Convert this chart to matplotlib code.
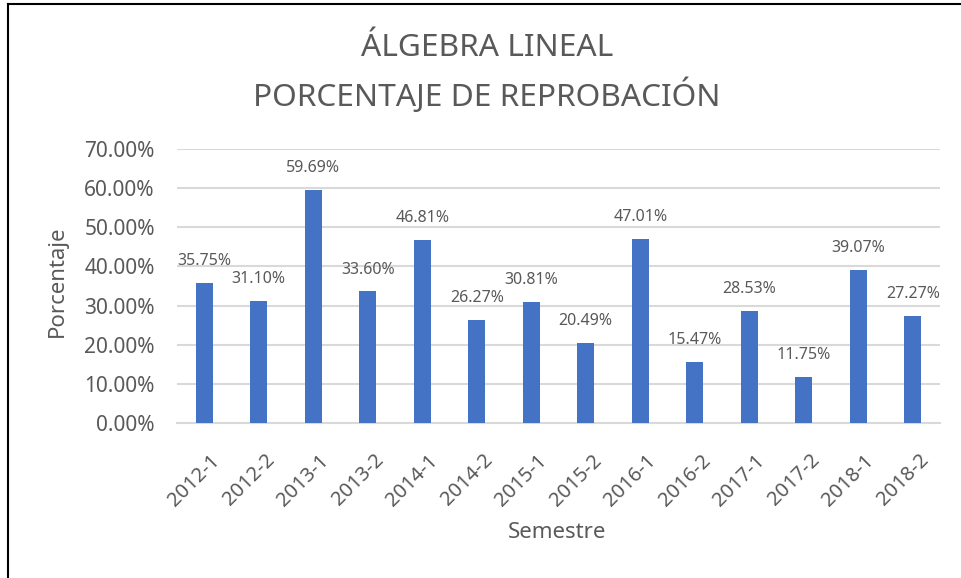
import matplotlib
matplotlib.use("Agg")
import matplotlib.pyplot as plt
from matplotlib.lines import Line2D
from matplotlib.ticker import FuncFormatter
from matplotlib.transforms import ScaledTranslation

semestres = ["2012-1", "2012-2", "2013-1", "2013-2", "2014-1", "2014-2", "2015-1",
             "2015-2", "2016-1", "2016-2", "2017-1", "2017-2", "2018-1", "2018-2"]
porcentajes = [35.75, 31.10, 59.69, 33.60, 46.81, 26.27, 30.81,
               20.49, 47.01, 15.47, 28.53, 11.75, 39.07, 27.27]
yticks = [0, 10, 20, 30, 40, 50, 60, 70]

plt.rcParams['font.family'] = ['Noto Sans', 'DejaVu Sans']
TXT = '#595959'
W, H = 961, 578
fig = plt.figure(figsize=(W / 100, H / 100), dpi=100)
ax = fig.add_axes([177 / W, 1 - 422.7 / H, (940 - 177) / W, (422.7 - 149.3) / H])

x = list(range(len(semestres)))
ax.bar(x, porcentajes, width=0.31, color='#4472C4', zorder=3)
for xi, v in zip(x, porcentajes):
    ax.annotate(f"{v:.2f}%", (xi, v), xytext=(0, 10), textcoords='offset points',
                ha='center', va='bottom', fontsize=11.5, color=TXT)

ax.set_xlim(-0.5, len(semestres) - 0.5)
ax.set_ylim(0, 70)
ax.set_yticks(yticks)
ax.yaxis.set_major_formatter(FuncFormatter(lambda v, p: f"{v:.2f}%"))
ax.grid(axis='y', color='#D9D9D9', linewidth=1.5, zorder=0)
for s in ['top', 'right', 'left']:
    ax.spines[s].set_visible(False)
ax.spines['bottom'].set_color('#D9D9D9')
ax.spines['bottom'].set_linewidth(1.5)
ax.tick_params(axis='y', length=0, pad=16, labelsize=15, labelcolor=TXT)
ax.tick_params(axis='x', length=0, pad=20, labelsize=14.5, labelcolor=TXT)
ax.set_xticks(x)
ax.set_xticklabels(semestres, rotation=45, ha='right', rotation_mode='anchor')
off = ScaledTranslation(6 / 100, 0, fig.dpi_scale_trans)
for lab in ax.get_xticklabels():
    lab.set_transform(lab.get_transform() + off)

ax.set_ylabel("Porcentaje", fontsize=16, color=TXT)
ax.yaxis.set_label_coords(-0.143, 0.518)
fig.text(557 / W, 1 - 532 / H, "Semestre", ha='center', va='center', fontsize=16, color=TXT)

fig.text(487 / W, 1 - 48 / H, "ÁLGEBRA LINEAL", ha='center', va='center', fontsize=22.8, color=TXT)
fig.text(487 / W, 1 - 95 / H, "PORCENTAJE DE REPROBACIÓN", ha='center', va='center', fontsize=22.8, color=TXT)

fig.add_artist(Line2D([8 / W, 8 / W], [0, 1 - 4 / H], transform=fig.transFigure, color='black', linewidth=1.5))
fig.add_artist(Line2D([8 / W, 1], [1 - 4 / H, 1 - 4 / H], transform=fig.transFigure, color='black', linewidth=1.5))

fig.savefig("out.png", dpi=100)
